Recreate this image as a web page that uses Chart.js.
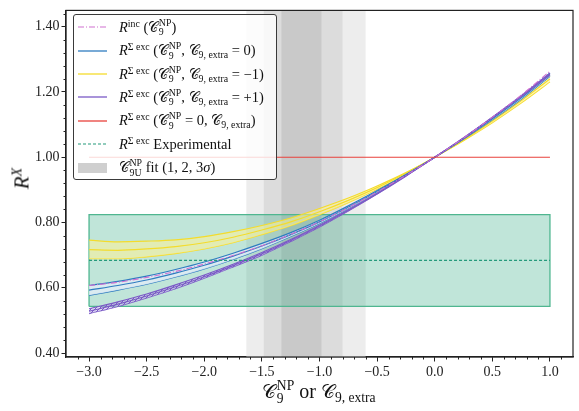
<!DOCTYPE html>
<html>
<head>
<meta charset="utf-8">
<script src="https://cdn.jsdelivr.net/npm/chart.js@4"></script>
<style>
  html,body{margin:0;padding:0;background:#fff;}
  #wrap{position:relative;width:579px;height:411px;overflow:hidden;}
  #c{position:absolute;left:0;top:0;}
  .mt{font-family:"Liberation Serif","DejaVu Serif",serif;color:#111;}
  .cal{font-family:"DejaVu Serif","DejaVu Sans",serif;font-style:normal;font-size:0.95em;}
  .sp{font-size:0.68em;vertical-align:0.5em;line-height:0;}
  .sb{font-size:0.68em;vertical-align:-0.3em;line-height:0;}
  .ss{display:inline-block;font-size:0.68em;line-height:0.95;vertical-align:-0.38em;margin-left:0.5px;text-align:left;}
  .ss > span{display:block;}
  #legend{position:absolute;left:73px;top:14px;width:204px;height:166px;background:rgba(255,255,255,0.8);
    border:1px solid #3a3a3a;border-radius:3px;box-sizing:border-box;padding-top:0.5px;font-size:14.5px;}
  .row{height:23.4px;display:flex;align-items:center;white-space:nowrap;}
  .row svg{margin-left:4px;margin-right:12px;flex:none;}
  #xlabel{position:absolute;left:219px;width:200px;top:379px;text-align:center;font-size:20px;white-space:nowrap;line-height:24px;}
  #ylabel{position:absolute;left:-28px;top:166px;width:100px;text-align:center;font-size:21px;transform:rotate(-90deg);white-space:nowrap;}
</style>
</head>
<body>
<div id="wrap">
<canvas id="c" width="579" height="411"></canvas>
<div id="legend" class="mt">
  <div class="row"><svg width="29" height="10"><line x1="0" y1="5" x2="29" y2="5" stroke="#d070d0" stroke-width="1.1" stroke-dasharray="6,2,1,2"/></svg><span><i>R</i><span class="sp">inc</span> (<span class="cal">𝒞</span><span class="ss"><span>NP</span><span>9</span></span>)</span></div>
  <div class="row"><svg width="29" height="10"><line x1="0" y1="5" x2="29" y2="5" stroke="#2f7cc0" stroke-width="1.3"/></svg><span><i>R</i><span class="sp">Σ exc</span> (<span class="cal">𝒞</span><span class="ss"><span>NP</span><span>9</span></span>, <span class="cal">𝒞</span><span class="sb">9, extra</span> = 0)</span></div>
  <div class="row"><svg width="29" height="10"><line x1="0" y1="5" x2="29" y2="5" stroke="#f4dc2c" stroke-width="1.3"/></svg><span><i>R</i><span class="sp">Σ exc</span> (<span class="cal">𝒞</span><span class="ss"><span>NP</span><span>9</span></span>, <span class="cal">𝒞</span><span class="sb">9, extra</span> = −1)</span></div>
  <div class="row"><svg width="29" height="10"><line x1="0" y1="5" x2="29" y2="5" stroke="#7b5ac6" stroke-width="1.3"/></svg><span><i>R</i><span class="sp">Σ exc</span> (<span class="cal">𝒞</span><span class="ss"><span>NP</span><span>9</span></span>, <span class="cal">𝒞</span><span class="sb">9, extra</span> = +1)</span></div>
  <div class="row"><svg width="29" height="10"><line x1="0" y1="5" x2="29" y2="5" stroke="#e8413b" stroke-width="1.3"/></svg><span><i>R</i><span class="sp">Σ exc</span> (<span class="cal">𝒞</span><span class="ss"><span>NP</span><span>9</span></span> = 0, <span class="cal">𝒞</span><span class="sb">9, extra</span>)</span></div>
  <div class="row"><svg width="29" height="10"><line x1="0" y1="5" x2="29" y2="5" stroke="#249a7b" stroke-width="1.1" stroke-dasharray="3,2"/></svg><span><i>R</i><span class="sp">Σ exc</span> Experimental</span></div>
  <div class="row"><svg width="29" height="12"><rect x="0" y="1" width="29" height="10" fill="#cfcfcf"/></svg><span><span class="cal">𝒞</span><span class="ss"><span>NP</span><span>9U</span></span> fit (1, 2, 3<i>σ</i>)</span></div>
</div>
<div id="xlabel" class="mt"><span class="cal">𝒞</span><span class="ss"><span>NP</span><span>9</span></span> or <span class="cal">𝒞</span><span class="sb">9, extra</span></div>
<div id="ylabel" class="mt"><i>R</i><span class="sp"><i>X</i></span></div>
</div>
<script>
// ---- data ----
const xs = [-3, -2.75, -2.5, -2.25, -2, -1.75, -1.5, -1.25, -1, -0.75, -0.5, -0.25, 0, 0.25, 0.5, 0.75, 1];
const incR       = [0.607, 0.617, 0.632, 0.650, 0.673, 0.699, 0.729, 0.764, 0.802, 0.846, 0.894, 0.945, 1.000, 1.059, 1.123, 1.190, 1.264];
const blueMid    = [0.593, 0.607, 0.624, 0.645, 0.669, 0.697, 0.728, 0.763, 0.802, 0.847, 0.895, 0.946, 1.000, 1.057, 1.118, 1.182, 1.253];
const blueHi     = [0.607, 0.620, 0.636, 0.656, 0.679, 0.706, 0.736, 0.769, 0.807, 0.851, 0.898, 0.947, 1.000, 1.058, 1.121, 1.186, 1.258];
const blueLo     = [0.577, 0.593, 0.611, 0.633, 0.658, 0.687, 0.720, 0.757, 0.797, 0.843, 0.892, 0.945, 1.000, 1.056, 1.115, 1.178, 1.248];
const yellowMid  = [0.717, 0.715, 0.719, 0.726, 0.738, 0.755, 0.777, 0.802, 0.833, 0.868, 0.907, 0.951, 1.000, 1.053, 1.111, 1.173, 1.240];
const yellowHi   = [0.746, 0.741, 0.743, 0.747, 0.757, 0.772, 0.791, 0.814, 0.843, 0.875, 0.912, 0.953, 1.000, 1.055, 1.116, 1.180, 1.249];
const yellowLo   = [0.689, 0.689, 0.695, 0.705, 0.719, 0.738, 0.763, 0.790, 0.824, 0.861, 0.902, 0.949, 1.000, 1.051, 1.106, 1.166, 1.231];
const purpleMid  = [0.528, 0.550, 0.575, 0.603, 0.634, 0.668, 0.704, 0.745, 0.789, 0.837, 0.888, 0.943, 1.000, 1.059, 1.122, 1.187, 1.255];
const purpleHi   = [0.536, 0.557, 0.581, 0.609, 0.639, 0.672, 0.708, 0.748, 0.792, 0.839, 0.889, 0.944, 1.000, 1.060, 1.123, 1.189, 1.258];
const purpleLo   = [0.521, 0.543, 0.569, 0.597, 0.629, 0.664, 0.700, 0.742, 0.786, 0.835, 0.887, 0.942, 1.000, 1.058, 1.121, 1.185, 1.252];
const redX = [-3, 1];
const redY = [1.0, 1.0];
const expX = [-3, 1];
const expCentral = 0.684;
const expLow = 0.543;
const expHigh = 0.824;
const sigma1 = [-1.330, -0.983];
const sigma2 = [-1.484, -0.800];
const sigma3 = [-1.635, -0.600];
const xTicks = [-3.0, -2.5, -2.0, -1.5, -1.0, -0.5, 0.0, 0.5, 1.0];
const yTicks = [0.40, 0.60, 0.80, 1.00, 1.20, 1.40];
const xMinor = [-3.1,-2.9,-2.8,-2.7,-2.6,-2.4,-2.3,-2.2,-2.1,-1.9,-1.8,-1.7,-1.6,-1.4,-1.3,-1.2,-1.1,-0.9,-0.8,-0.7,-0.6,-0.4,-0.3,-0.2,-0.1,0.1,0.2,0.3,0.4,0.6,0.7,0.8,0.9,1.1];
const yMinor = [0.44,0.48,0.52,0.56,0.64,0.68,0.72,0.76,0.84,0.88,0.92,0.96,1.04,1.08,1.12,1.16,1.24,1.28,1.32,1.36,1.44];
const X_MIN = -3.2, X_MAX = 1.2, Y_MIN = 0.388, Y_MAX = 1.45;

// ---- helpers ----
const pts = (arr) => xs.map((x, i) => ({x: x, y: arr[i]}));
const vband = (r) => [{x:r[0],y:Y_MIN-1},{x:r[0],y:Y_MAX+1},{x:r[1],y:Y_MAX+1},{x:r[1],y:Y_MIN-1},{x:r[0],y:Y_MIN-1}];
function hatch(color){
  const c=document.createElement('canvas'); c.width=4; c.height=4;
  const g=c.getContext('2d');
  g.fillStyle='rgba(200,190,235,0.5)'; g.fillRect(0,0,4,4);
  g.strokeStyle=color; g.lineWidth=1;
  g.beginPath(); g.moveTo(-1,5); g.lineTo(5,-1); g.moveTo(-1,1); g.lineTo(1,-1); g.moveTo(3,5); g.lineTo(5,3); g.stroke();
  return g.createPattern(c,'repeat');
}
const fmt = (v, d) => (v < -1e-9 ? '\u2212' : '') + Math.abs(v).toFixed(d);
const base = {showLine:true, pointRadius:0, borderWidth:1.2, tension:0.4, cubicInterpolationMode:'monotone', fill:false};

const datasets = [
  {...base, data: vband(sigma3), backgroundColor:'#ededed', borderColor:'transparent', borderWidth:0, fill:'shape', tension:0, cubicInterpolationMode:'default', order:100},
  {...base, data: vband(sigma2), backgroundColor:'#dcdcdc', borderColor:'transparent', borderWidth:0, fill:'shape', tension:0, cubicInterpolationMode:'default', order:99},
  {...base, data: vband(sigma1), backgroundColor:'#c9c9c9', borderColor:'transparent', borderWidth:0, fill:'shape', tension:0, cubicInterpolationMode:'default', order:98},
  {...base, data: [{x:expX[0],y:expLow},{x:expX[0],y:expHigh},{x:expX[1],y:expHigh},{x:expX[1],y:expLow},{x:expX[0],y:expLow}],
     backgroundColor:'rgba(70,180,145,0.34)', borderColor:'#4fb690', borderWidth:1.3, fill:'shape', tension:0, cubicInterpolationMode:'default', order:90},
  {...base, data: pts(yellowLo), borderColor:'#f4dc2c', order:52},
  {...base, data: pts(yellowHi), borderColor:'#f4dc2c', fill:4, backgroundColor:'rgba(255,242,150,0.55)', order:51},
  {...base, data: pts(yellowMid), borderColor:'#f4dc2c', order:50},
  {...base, data: pts(blueLo), borderColor:'#2f7cc0', order:42},
  {...base, data: pts(blueHi), borderColor:'#2f7cc0', fill:7, backgroundColor:'rgba(225,236,246,0.85)', order:41},
  {...base, data: pts(blueMid), borderColor:'#2f7cc0', order:40},
  {...base, data: pts(purpleLo), borderColor:'#7b5ac6', borderWidth:1.1, order:32},
  {...base, data: pts(purpleHi), borderColor:'#7b5ac6', borderWidth:1.1, fill:10, backgroundColor:hatch('#7b5ac6'), order:31},
  {...base, data: pts(purpleMid), borderColor:'#7b5ac6', borderWidth:1.1, order:30},
  {...base, data: pts(incR), borderColor:'#d070d0', borderWidth:1.1, borderDash:[6,2,1,2], order:20},
  {...base, data: redX.map((x,i)=>({x:x,y:redY[i]})), borderColor:'#e8413b', tension:0, order:10},
  {...base, data: expX.map(x=>({x:x,y:expCentral})), borderColor:'#249a7b', borderWidth:1.1, borderDash:[3,2], tension:0, order:5}
];

const minorTicks = {
  id:'minorTicks',
  afterDraw(chart){
    const ctx=chart.ctx, a=chart.chartArea, sx=chart.scales.x, sy=chart.scales.y;
    ctx.save();
    ctx.strokeStyle='#222'; ctx.lineWidth=1;
    ctx.beginPath();
    xMinor.forEach(v=>{const p=Math.round(sx.getPixelForValue(v))+0.5; ctx.moveTo(p,a.bottom); ctx.lineTo(p,a.bottom+2.5);});
    yMinor.forEach(v=>{const p=Math.round(sy.getPixelForValue(v))+0.5; ctx.moveTo(a.left,p); ctx.lineTo(a.left-2.5,p);});
    ctx.stroke();
    ctx.lineWidth=1.2; ctx.strokeStyle='#222';
    ctx.strokeRect(a.left, a.top, a.right-a.left, a.bottom-a.top);
    ctx.restore();
  }
};

const tickFont = {family:'"Liberation Serif", serif', size:14};
new Chart(document.getElementById('c'), {
  type:'scatter',
  data:{datasets},
  plugins:[minorTicks],
  options:{
    responsive:false, animation:false, events:[],
    layout:{padding:{top:6, right:6, left:0, bottom:0}},
    plugins:{legend:{display:false}, tooltip:{enabled:false}},
    scales:{
      x:{type:'linear', min:X_MIN, max:X_MAX,
         afterBuildTicks:(s)=>{s.ticks = xTicks.map(v=>({value:v}));},
         afterFit:(s)=>{s.height = 54;},
         ticks:{callback:(v)=>fmt(v,1), font:tickFont, color:'#222', padding:2, maxRotation:0, autoSkip:false},
         grid:{drawOnChartArea:false, drawTicks:true, tickLength:4.5, tickColor:'#222', tickWidth:1},
         border:{display:true, color:'#222', width:1.2}},
      y:{type:'linear', min:Y_MIN, max:Y_MAX,
         afterBuildTicks:(s)=>{s.ticks = yTicks.map(v=>({value:v}));},
         afterFit:(s)=>{s.width = 66;},
         ticks:{callback:(v)=>fmt(v,2), font:tickFont, color:'#222', padding:2, autoSkip:false},
         grid:{drawOnChartArea:false, drawTicks:true, tickLength:4.5, tickColor:'#222', tickWidth:1},
         border:{display:true, color:'#222', width:1.2}}
    }
  }
});
</script>
</body>
</html>
